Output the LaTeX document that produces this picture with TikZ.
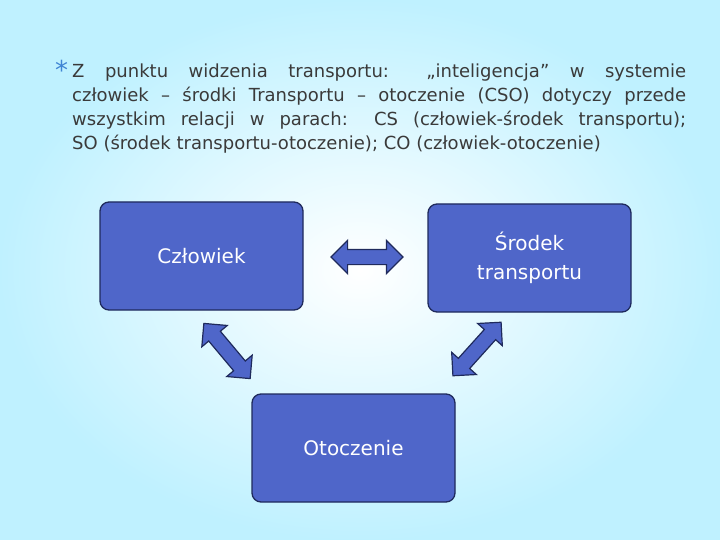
\documentclass[tikz,border=0pt]{standalone}
\usepackage{fontspec}
\setmainfont{DejaVu Sans}
\usetikzlibrary{shapes.arrows}
\definecolor{boxblue}{HTML}{4F66C9}
\definecolor{navy}{HTML}{1F2A5C}
\definecolor{txt}{HTML}{3A3A3A}
\tikzset{
  box/.style={draw=navy, line width=1.3pt, fill=boxblue, rounded corners=9pt, minimum width=203pt, minimum height=108pt, text=white, font=\fontsize{20}{29}\selectfont, align=center, inner sep=0pt},
  darr/.style={double arrow, draw=navy, line width=1.2pt, fill=boxblue, double arrow head extend=9pt, minimum height=#1, inner xsep=0pt, inner ysep=7pt}
}
\begin{document}
\begin{tikzpicture}[x=1pt,y=-1pt]
\shade[inner color=white, outer color=blue!22!cyan!25!white] (0,0) rectangle (720,540);
\useasboundingbox (0,0) rectangle (720,540);
\node[text=boxblue!80!cyan, font=\fontsize{26}{26}\selectfont, anchor=north west, inner sep=0pt] (star) at (55,60) {*};
\node[anchor=north west, text width=614pt, align=justify, inner sep=0pt, text=txt, font=\fontsize{18}{24}\selectfont] (title) at (72,64)
{Z punktu widzenia transportu: „inteligencja” w systemie\linebreak człowiek – środki Transportu – otoczenie (CSO) dotyczy przede\linebreak wszystkim relacji w parach: CS (człowiek-środek transportu);\linebreak SO (środek transportu-otoczenie); CO (człowiek-otoczenie)};
\node[box] (c) at (201.5,256) {Człowiek};
\node[box] (s) at (529.5,258) {Środek\\transportu};
\node[box] (o) at (353.5,448) {Otoczenie};
\node[darr=72pt] (a1) at (367,257) {};
\node[darr=72pt, rotate=-50] (a2) at (227,351) {};
\node[darr=72pt, rotate=48] (a3) at (477,349) {};
\end{tikzpicture}
\end{document}
